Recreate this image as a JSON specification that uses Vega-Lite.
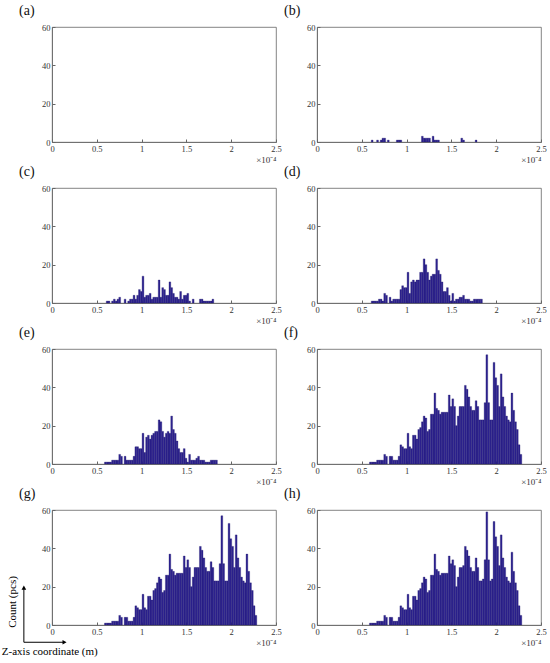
{
  "$schema": "https://vega.github.io/schema/vega-lite/v6.json",
  "padding": {"left": 1, "top": 3, "right": 5, "bottom": 5},
  "columns": 2,
  "spacing": {"row": 46, "column": 41},
  "bounds": "flush",
  "datasets": {
    "a": [],
    "b": [
      {"b": 0.60, "n": 1}, {"b": 0.66, "n": 1}, {"b": 0.70, "n": 1}, {"b": 0.72, "n": 2}, {"b": 0.74, "n": 2},
      {"b": 0.78, "n": 1}, {"b": 0.88, "n": 1}, {"b": 0.90, "n": 1}, {"b": 0.92, "n": 1}, {"b": 1.16, "n": 3},
      {"b": 1.18, "n": 2}, {"b": 1.20, "n": 2}, {"b": 1.22, "n": 2}, {"b": 1.24, "n": 2}, {"b": 1.28, "n": 3},
      {"b": 1.30, "n": 1}, {"b": 1.32, "n": 1}, {"b": 1.34, "n": 1}, {"b": 1.60, "n": 2}, {"b": 1.62, "n": 1},
      {"b": 1.76, "n": 1}
    ],
    "c": [
      {"b": 0.60, "n": 1}, {"b": 0.62, "n": 1}, {"b": 0.66, "n": 1}, {"b": 0.68, "n": 2}, {"b": 0.70, "n": 1},
      {"b": 0.72, "n": 2}, {"b": 0.74, "n": 3}, {"b": 0.80, "n": 2}, {"b": 0.84, "n": 1}, {"b": 0.86, "n": 2},
      {"b": 0.88, "n": 2}, {"b": 0.90, "n": 4}, {"b": 0.92, "n": 2}, {"b": 0.94, "n": 4}, {"b": 0.96, "n": 7},
      {"b": 0.98, "n": 6}, {"b": 1.00, "n": 14}, {"b": 1.02, "n": 3}, {"b": 1.04, "n": 4}, {"b": 1.06, "n": 4},
      {"b": 1.08, "n": 5}, {"b": 1.10, "n": 2}, {"b": 1.12, "n": 3}, {"b": 1.14, "n": 3}, {"b": 1.16, "n": 3},
      {"b": 1.18, "n": 12}, {"b": 1.20, "n": 3}, {"b": 1.22, "n": 8}, {"b": 1.24, "n": 7}, {"b": 1.26, "n": 4},
      {"b": 1.28, "n": 4}, {"b": 1.30, "n": 11}, {"b": 1.32, "n": 8}, {"b": 1.34, "n": 5}, {"b": 1.36, "n": 3},
      {"b": 1.38, "n": 3}, {"b": 1.40, "n": 2}, {"b": 1.42, "n": 6}, {"b": 1.44, "n": 2}, {"b": 1.46, "n": 4},
      {"b": 1.48, "n": 4}, {"b": 1.50, "n": 5}, {"b": 1.52, "n": 1}, {"b": 1.56, "n": 2}, {"b": 1.64, "n": 2},
      {"b": 1.66, "n": 2}, {"b": 1.68, "n": 1}, {"b": 1.70, "n": 1}, {"b": 1.72, "n": 1}, {"b": 1.74, "n": 1},
      {"b": 1.76, "n": 1}, {"b": 1.78, "n": 2}
    ],
    "d": [
      {"b": 0.60, "n": 1}, {"b": 0.62, "n": 1}, {"b": 0.64, "n": 1}, {"b": 0.66, "n": 1}, {"b": 0.68, "n": 2},
      {"b": 0.70, "n": 2}, {"b": 0.72, "n": 1}, {"b": 0.74, "n": 5}, {"b": 0.76, "n": 4}, {"b": 0.80, "n": 3},
      {"b": 0.82, "n": 1}, {"b": 0.84, "n": 2}, {"b": 0.86, "n": 2}, {"b": 0.88, "n": 2}, {"b": 0.90, "n": 2},
      {"b": 0.92, "n": 7}, {"b": 0.94, "n": 9}, {"b": 0.96, "n": 8}, {"b": 0.98, "n": 8}, {"b": 1.00, "n": 16},
      {"b": 1.02, "n": 5}, {"b": 1.04, "n": 11}, {"b": 1.06, "n": 12}, {"b": 1.08, "n": 11}, {"b": 1.10, "n": 12},
      {"b": 1.12, "n": 12}, {"b": 1.14, "n": 16}, {"b": 1.16, "n": 16}, {"b": 1.18, "n": 23}, {"b": 1.20, "n": 20},
      {"b": 1.22, "n": 16}, {"b": 1.24, "n": 12}, {"b": 1.26, "n": 14}, {"b": 1.28, "n": 15}, {"b": 1.30, "n": 15},
      {"b": 1.32, "n": 23}, {"b": 1.34, "n": 17}, {"b": 1.36, "n": 15}, {"b": 1.38, "n": 11}, {"b": 1.40, "n": 6},
      {"b": 1.42, "n": 6}, {"b": 1.44, "n": 8}, {"b": 1.46, "n": 4}, {"b": 1.48, "n": 1}, {"b": 1.50, "n": 5},
      {"b": 1.52, "n": 1}, {"b": 1.54, "n": 2}, {"b": 1.56, "n": 2}, {"b": 1.58, "n": 3}, {"b": 1.60, "n": 3},
      {"b": 1.62, "n": 4}, {"b": 1.64, "n": 2}, {"b": 1.66, "n": 2}, {"b": 1.68, "n": 2}, {"b": 1.70, "n": 1},
      {"b": 1.72, "n": 1}, {"b": 1.74, "n": 2}, {"b": 1.76, "n": 2}, {"b": 1.78, "n": 2}, {"b": 1.80, "n": 2},
      {"b": 1.82, "n": 2}
    ],
    "e": [
      {"b": 0.58, "n": 1}, {"b": 0.60, "n": 1}, {"b": 0.62, "n": 1}, {"b": 0.64, "n": 1}, {"b": 0.66, "n": 2},
      {"b": 0.68, "n": 2}, {"b": 0.70, "n": 2}, {"b": 0.72, "n": 2}, {"b": 0.74, "n": 5}, {"b": 0.76, "n": 4},
      {"b": 0.80, "n": 4}, {"b": 0.82, "n": 2}, {"b": 0.84, "n": 2}, {"b": 0.86, "n": 2}, {"b": 0.88, "n": 2},
      {"b": 0.90, "n": 4}, {"b": 0.92, "n": 9}, {"b": 0.94, "n": 9}, {"b": 0.96, "n": 8}, {"b": 0.98, "n": 8},
      {"b": 1.00, "n": 16}, {"b": 1.02, "n": 6}, {"b": 1.04, "n": 14}, {"b": 1.06, "n": 15}, {"b": 1.08, "n": 13},
      {"b": 1.10, "n": 15}, {"b": 1.12, "n": 16}, {"b": 1.14, "n": 17}, {"b": 1.16, "n": 17}, {"b": 1.18, "n": 23},
      {"b": 1.20, "n": 22}, {"b": 1.22, "n": 17}, {"b": 1.24, "n": 14}, {"b": 1.26, "n": 16}, {"b": 1.28, "n": 17},
      {"b": 1.30, "n": 16}, {"b": 1.32, "n": 25}, {"b": 1.34, "n": 18}, {"b": 1.36, "n": 16}, {"b": 1.38, "n": 12},
      {"b": 1.40, "n": 8}, {"b": 1.42, "n": 6}, {"b": 1.44, "n": 6}, {"b": 1.46, "n": 8}, {"b": 1.48, "n": 3},
      {"b": 1.50, "n": 1}, {"b": 1.52, "n": 5}, {"b": 1.54, "n": 2}, {"b": 1.56, "n": 2}, {"b": 1.58, "n": 2},
      {"b": 1.60, "n": 3}, {"b": 1.62, "n": 4}, {"b": 1.64, "n": 2}, {"b": 1.66, "n": 2}, {"b": 1.68, "n": 2},
      {"b": 1.70, "n": 1}, {"b": 1.72, "n": 1}, {"b": 1.74, "n": 1}, {"b": 1.76, "n": 2}, {"b": 1.78, "n": 2},
      {"b": 1.80, "n": 2}, {"b": 1.82, "n": 2}
    ],
    "f": [
      {"b": 0.58, "n": 1}, {"b": 0.60, "n": 1}, {"b": 0.62, "n": 1}, {"b": 0.64, "n": 1}, {"b": 0.66, "n": 2},
      {"b": 0.68, "n": 2}, {"b": 0.70, "n": 2}, {"b": 0.72, "n": 2}, {"b": 0.74, "n": 5}, {"b": 0.76, "n": 4},
      {"b": 0.80, "n": 4}, {"b": 0.82, "n": 4}, {"b": 0.84, "n": 2}, {"b": 0.86, "n": 2}, {"b": 0.88, "n": 2},
      {"b": 0.90, "n": 4}, {"b": 0.92, "n": 10}, {"b": 0.94, "n": 9}, {"b": 0.96, "n": 8}, {"b": 0.98, "n": 8},
      {"b": 1.00, "n": 16}, {"b": 1.02, "n": 9}, {"b": 1.04, "n": 8}, {"b": 1.06, "n": 15}, {"b": 1.08, "n": 15},
      {"b": 1.10, "n": 13}, {"b": 1.12, "n": 18}, {"b": 1.14, "n": 19}, {"b": 1.16, "n": 22}, {"b": 1.18, "n": 25},
      {"b": 1.20, "n": 24}, {"b": 1.22, "n": 17}, {"b": 1.24, "n": 18}, {"b": 1.26, "n": 26}, {"b": 1.28, "n": 26},
      {"b": 1.30, "n": 37}, {"b": 1.32, "n": 29}, {"b": 1.34, "n": 28}, {"b": 1.36, "n": 26}, {"b": 1.38, "n": 27},
      {"b": 1.40, "n": 27}, {"b": 1.42, "n": 27}, {"b": 1.44, "n": 27}, {"b": 1.46, "n": 36}, {"b": 1.48, "n": 30},
      {"b": 1.50, "n": 34}, {"b": 1.52, "n": 30}, {"b": 1.54, "n": 20}, {"b": 1.56, "n": 25}, {"b": 1.58, "n": 30},
      {"b": 1.60, "n": 30}, {"b": 1.62, "n": 30}, {"b": 1.64, "n": 41}, {"b": 1.66, "n": 39}, {"b": 1.68, "n": 35},
      {"b": 1.70, "n": 30}, {"b": 1.72, "n": 28}, {"b": 1.74, "n": 28}, {"b": 1.76, "n": 33}, {"b": 1.78, "n": 30},
      {"b": 1.80, "n": 23}, {"b": 1.82, "n": 23}, {"b": 1.84, "n": 23}, {"b": 1.86, "n": 32}, {"b": 1.88, "n": 57},
      {"b": 1.90, "n": 32}, {"b": 1.92, "n": 23}, {"b": 1.94, "n": 23}, {"b": 1.96, "n": 53}, {"b": 1.98, "n": 45},
      {"b": 2.00, "n": 41}, {"b": 2.02, "n": 30}, {"b": 2.04, "n": 47}, {"b": 2.06, "n": 35}, {"b": 2.08, "n": 30},
      {"b": 2.10, "n": 25}, {"b": 2.12, "n": 23}, {"b": 2.14, "n": 22}, {"b": 2.16, "n": 37}, {"b": 2.18, "n": 28},
      {"b": 2.20, "n": 22}, {"b": 2.22, "n": 18}, {"b": 2.24, "n": 10}, {"b": 2.26, "n": 5}
    ],
    "h": [
      {"b": 0.58, "n": 1}, {"b": 0.60, "n": 1}, {"b": 0.62, "n": 1}, {"b": 0.64, "n": 1}, {"b": 0.66, "n": 2},
      {"b": 0.68, "n": 2}, {"b": 0.70, "n": 2}, {"b": 0.72, "n": 2}, {"b": 0.74, "n": 5}, {"b": 0.76, "n": 4},
      {"b": 0.80, "n": 4}, {"b": 0.82, "n": 4}, {"b": 0.84, "n": 2}, {"b": 0.86, "n": 2}, {"b": 0.88, "n": 2},
      {"b": 0.90, "n": 4}, {"b": 0.92, "n": 10}, {"b": 0.94, "n": 9}, {"b": 0.96, "n": 8}, {"b": 0.98, "n": 8},
      {"b": 1.00, "n": 16}, {"b": 1.02, "n": 9}, {"b": 1.04, "n": 8}, {"b": 1.06, "n": 15}, {"b": 1.08, "n": 15},
      {"b": 1.10, "n": 13}, {"b": 1.12, "n": 18}, {"b": 1.14, "n": 19}, {"b": 1.16, "n": 22}, {"b": 1.18, "n": 25},
      {"b": 1.20, "n": 24}, {"b": 1.22, "n": 17}, {"b": 1.24, "n": 18}, {"b": 1.26, "n": 26}, {"b": 1.28, "n": 26},
      {"b": 1.30, "n": 37}, {"b": 1.32, "n": 29}, {"b": 1.34, "n": 28}, {"b": 1.36, "n": 26}, {"b": 1.38, "n": 27},
      {"b": 1.40, "n": 27}, {"b": 1.42, "n": 27}, {"b": 1.44, "n": 27}, {"b": 1.46, "n": 36}, {"b": 1.48, "n": 32},
      {"b": 1.50, "n": 34}, {"b": 1.52, "n": 31}, {"b": 1.54, "n": 20}, {"b": 1.56, "n": 25}, {"b": 1.58, "n": 30},
      {"b": 1.60, "n": 30}, {"b": 1.62, "n": 31}, {"b": 1.64, "n": 41}, {"b": 1.66, "n": 39}, {"b": 1.68, "n": 36},
      {"b": 1.70, "n": 30}, {"b": 1.72, "n": 28}, {"b": 1.74, "n": 28}, {"b": 1.76, "n": 35}, {"b": 1.78, "n": 30},
      {"b": 1.80, "n": 23}, {"b": 1.82, "n": 23}, {"b": 1.84, "n": 24}, {"b": 1.86, "n": 34}, {"b": 1.88, "n": 59},
      {"b": 1.90, "n": 34}, {"b": 1.92, "n": 23}, {"b": 1.94, "n": 24}, {"b": 1.96, "n": 54}, {"b": 1.98, "n": 46},
      {"b": 2.00, "n": 41}, {"b": 2.02, "n": 31}, {"b": 2.04, "n": 47}, {"b": 2.06, "n": 35}, {"b": 2.08, "n": 30},
      {"b": 2.10, "n": 25}, {"b": 2.12, "n": 23}, {"b": 2.14, "n": 22}, {"b": 2.16, "n": 38}, {"b": 2.18, "n": 28},
      {"b": 2.20, "n": 22}, {"b": 2.22, "n": 18}, {"b": 2.24, "n": 10}, {"b": 2.26, "n": 5}
    ]
  },
  "concat": [
    {
      "title": "(a)",
      "width": 224, "height": 115,
      "data": {"name": "a"},
      "mark": {"type": "bar", "fill": "#2e2391", "stroke": "#1c1566", "strokeWidth": 0.3},
      "encoding": {
        "x": {"field": "b", "type": "quantitative", "bin": {"binned": true, "step": 0.02}, "scale": {"domain": [0, 2.5], "nice": false}, "axis": {"values": [0, 0.5, 1, 1.5, 2, 2.5], "format": "~g", "title": "×10⁻⁴"}},
        "y": {"field": "n", "type": "quantitative", "scale": {"domain": [0, 60], "nice": false}, "axis": {"values": [0, 20, 40, 60], "title": null}}
      }
    },
    {
      "title": "(b)",
      "width": 224, "height": 115,
      "data": {"name": "b"},
      "mark": {"type": "bar", "fill": "#2e2391", "stroke": "#1c1566", "strokeWidth": 0.3},
      "encoding": {
        "x": {"field": "b", "type": "quantitative", "bin": {"binned": true, "step": 0.02}, "scale": {"domain": [0, 2.5], "nice": false}, "axis": {"values": [0, 0.5, 1, 1.5, 2, 2.5], "format": "~g", "title": "×10⁻⁴"}},
        "y": {"field": "n", "type": "quantitative", "scale": {"domain": [0, 60], "nice": false}, "axis": {"values": [0, 20, 40, 60], "title": null}}
      }
    },
    {
      "title": "(c)",
      "width": 224, "height": 115,
      "data": {"name": "c"},
      "mark": {"type": "bar", "fill": "#2e2391", "stroke": "#1c1566", "strokeWidth": 0.3},
      "encoding": {
        "x": {"field": "b", "type": "quantitative", "bin": {"binned": true, "step": 0.02}, "scale": {"domain": [0, 2.5], "nice": false}, "axis": {"values": [0, 0.5, 1, 1.5, 2, 2.5], "format": "~g", "title": "×10⁻⁴"}},
        "y": {"field": "n", "type": "quantitative", "scale": {"domain": [0, 60], "nice": false}, "axis": {"values": [0, 20, 40, 60], "title": null}}
      }
    },
    {
      "title": "(d)",
      "width": 224, "height": 115,
      "data": {"name": "d"},
      "mark": {"type": "bar", "fill": "#2e2391", "stroke": "#1c1566", "strokeWidth": 0.3},
      "encoding": {
        "x": {"field": "b", "type": "quantitative", "bin": {"binned": true, "step": 0.02}, "scale": {"domain": [0, 2.5], "nice": false}, "axis": {"values": [0, 0.5, 1, 1.5, 2, 2.5], "format": "~g", "title": "×10⁻⁴"}},
        "y": {"field": "n", "type": "quantitative", "scale": {"domain": [0, 60], "nice": false}, "axis": {"values": [0, 20, 40, 60], "title": null}}
      }
    },
    {
      "title": "(e)",
      "width": 224, "height": 115,
      "data": {"name": "e"},
      "mark": {"type": "bar", "fill": "#2e2391", "stroke": "#1c1566", "strokeWidth": 0.3},
      "encoding": {
        "x": {"field": "b", "type": "quantitative", "bin": {"binned": true, "step": 0.02}, "scale": {"domain": [0, 2.5], "nice": false}, "axis": {"values": [0, 0.5, 1, 1.5, 2, 2.5], "format": "~g", "title": "×10⁻⁴"}},
        "y": {"field": "n", "type": "quantitative", "scale": {"domain": [0, 60], "nice": false}, "axis": {"values": [0, 20, 40, 60], "title": null}}
      }
    },
    {
      "title": "(f)",
      "width": 224, "height": 115,
      "data": {"name": "f"},
      "mark": {"type": "bar", "fill": "#2e2391", "stroke": "#1c1566", "strokeWidth": 0.3},
      "encoding": {
        "x": {"field": "b", "type": "quantitative", "bin": {"binned": true, "step": 0.02}, "scale": {"domain": [0, 2.5], "nice": false}, "axis": {"values": [0, 0.5, 1, 1.5, 2, 2.5], "format": "~g", "title": "×10⁻⁴"}},
        "y": {"field": "n", "type": "quantitative", "scale": {"domain": [0, 60], "nice": false}, "axis": {"values": [0, 20, 40, 60], "title": null}}
      }
    },
    {
      "title": "(g)",
      "width": 224, "height": 115,
      "layer": [
        {
          "data": {"name": "f"},
          "mark": {"type": "bar", "fill": "#2e2391", "stroke": "#1c1566", "strokeWidth": 0.3},
          "encoding": {
            "x": {"field": "b", "type": "quantitative", "bin": {"binned": true, "step": 0.02}, "scale": {"domain": [0, 2.5], "nice": false}, "axis": {"values": [0, 0.5, 1, 1.5, 2, 2.5], "format": "~g", "title": "×10⁻⁴"}},
            "y": {"field": "n", "type": "quantitative", "scale": {"domain": [0, 60], "nice": false}, "axis": {"values": [0, 20, 40, 60], "title": null}}
          }
        },
        {
          "data": {"values": [{}]},
          "mark": {"type": "rule", "clip": false, "color": "black", "strokeWidth": 1},
          "encoding": {
            "x": {"datum": -0.314, "type": "quantitative", "axis": {"values": [0, 0.5, 1, 1.5, 2, 2.5], "format": "~g", "title": "×10⁻⁴"}},
            "y": {"datum": -9, "type": "quantitative", "axis": {"values": [0, 20, 40, 60], "title": null}},
            "y2": {"datum": 19}
          }
        },
        {
          "data": {"values": [{}]},
          "mark": {"type": "rule", "clip": false, "color": "black", "strokeWidth": 1},
          "encoding": {
            "x": {"datum": -0.314, "type": "quantitative", "axis": {"values": [0, 0.5, 1, 1.5, 2, 2.5], "format": "~g", "title": "×10⁻⁴"}},
            "x2": {"datum": 0.13},
            "y": {"datum": -9, "type": "quantitative", "axis": {"values": [0, 20, 40, 60], "title": null}}
          }
        },
        {
          "data": {"values": [{}]},
          "mark": {"type": "point", "shape": "triangle-up", "clip": false, "filled": true, "color": "black", "size": 22, "opacity": 1},
          "encoding": {
            "x": {"datum": -0.314, "type": "quantitative", "axis": {"values": [0, 0.5, 1, 1.5, 2, 2.5], "format": "~g", "title": "×10⁻⁴"}},
            "y": {"datum": 19.5, "type": "quantitative", "axis": {"values": [0, 20, 40, 60], "title": null}}
          }
        },
        {
          "data": {"values": [{}]},
          "mark": {"type": "point", "shape": "triangle-right", "clip": false, "filled": true, "color": "black", "size": 22, "opacity": 1},
          "encoding": {
            "x": {"datum": 0.14, "type": "quantitative", "axis": {"values": [0, 0.5, 1, 1.5, 2, 2.5], "format": "~g", "title": "×10⁻⁴"}},
            "y": {"datum": -9, "type": "quantitative", "axis": {"values": [0, 20, 40, 60], "title": null}}
          }
        },
        {
          "data": {"values": [{}]},
          "mark": {"type": "text", "text": "Count (pcs)", "angle": 270, "clip": false, "font": "Liberation Serif", "fontSize": 11, "color": "black", "align": "center", "baseline": "middle"},
          "encoding": {
            "x": {"datum": -0.44, "type": "quantitative", "axis": {"values": [0, 0.5, 1, 1.5, 2, 2.5], "format": "~g", "title": "×10⁻⁴"}},
            "y": {"datum": 12, "type": "quantitative", "axis": {"values": [0, 20, 40, 60], "title": null}}
          }
        },
        {
          "data": {"values": [{}]},
          "mark": {"type": "text", "text": "Z-axis coordinate (m)", "clip": false, "font": "Liberation Serif", "fontSize": 11, "color": "black", "align": "left", "baseline": "middle"},
          "encoding": {
            "x": {"datum": -0.56, "type": "quantitative", "axis": {"values": [0, 0.5, 1, 1.5, 2, 2.5], "format": "~g", "title": "×10⁻⁴"}},
            "y": {"datum": -14, "type": "quantitative", "axis": {"values": [0, 20, 40, 60], "title": null}}
          }
        }
      ]
    },
    {
      "title": "(h)",
      "width": 224, "height": 115,
      "data": {"name": "h"},
      "mark": {"type": "bar", "fill": "#2e2391", "stroke": "#1c1566", "strokeWidth": 0.3},
      "encoding": {
        "x": {"field": "b", "type": "quantitative", "bin": {"binned": true, "step": 0.02}, "scale": {"domain": [0, 2.5], "nice": false}, "axis": {"values": [0, 0.5, 1, 1.5, 2, 2.5], "format": "~g", "title": "×10⁻⁴"}},
        "y": {"field": "n", "type": "quantitative", "scale": {"domain": [0, 60], "nice": false}, "axis": {"values": [0, 20, 40, 60], "title": null}}
      }
    }
  ],
  "config": {
    "background": "white",
    "view": {"stroke": "#666666", "strokeWidth": 0.8},
    "bar": {"binSpacing": 0},
    "title": {"font": "Liberation Serif", "fontSize": 14, "fontWeight": "normal", "color": "#111111", "anchor": "start", "frame": "group", "dx": -33, "offset": 5},
    "axis": {
      "grid": false,
      "labelFont": "Liberation Serif",
      "labelFontSize": 8.5,
      "labelColor": "#333333",
      "domainColor": "#666666",
      "domainWidth": 0.8,
      "tickColor": "#666666",
      "tickSize": -3,
      "labelPadding": 5,
      "titleFont": "Liberation Serif",
      "titleFontSize": 9,
      "titleFontWeight": "normal",
      "titleColor": "#333333"
    },
    "axisX": {"titleAnchor": "end", "titleAlign": "right", "titlePadding": 3, "labelFlush": false}
  }
}
